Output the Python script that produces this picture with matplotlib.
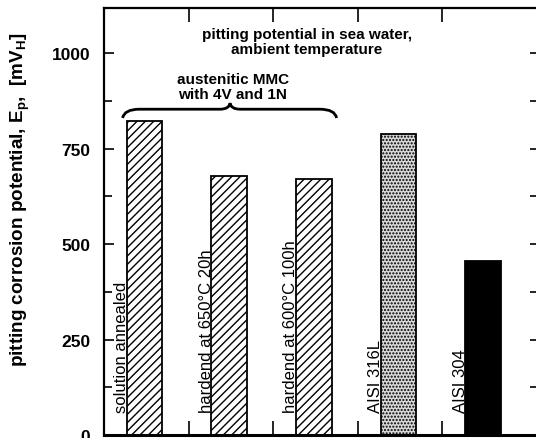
import numpy as np
import matplotlib as mpl
mpl.use('Agg')
import matplotlib.pyplot as plt
from matplotlib.path import Path
from matplotlib.patches import PathPatch

plt.rcParams['font.family'] = ['Liberation Sans', 'DejaVu Sans']
plt.rcParams['mathtext.fontset'] = 'custom'
plt.rcParams['mathtext.rm'] = 'Liberation Sans:bold'
plt.rcParams['mathtext.bf'] = 'Liberation Sans:bold'
plt.rcParams['hatch.linewidth'] = 1.0

# Data
labels = ["solution annealed", "hardend at 650°C 20h", "hardend at 600°C 100h",
          "AISI 316L", "AISI 304"]
values = [822, 678, 670, 788, 455]
hatches = ['////', '////', '////', '.....', None]
facecolors = ['white', 'white', 'white', '#d8d8d8', 'black']
yticks = [0, 250, 500, 750, 1000]

fig = plt.figure(figsize=(5.36, 4.39), dpi=100)
# right spine sits just outside the cropped picture
ax = fig.add_axes([104/536, 3/439, 440/536, 427/439])

x = np.arange(len(values))
for i, v in enumerate(values):
    ax.bar(x[i] + 0.48, v, width=0.42, color=facecolors[i], edgecolor='black',
           linewidth=1.3, hatch=hatches[i], zorder=2)
    ax.text(x[i] + 0.21, 60, labels[i], rotation=90, ha='center', va='bottom',
            fontsize=12)

ax.set_xlim(0, 440/84.6)
ax.set_ylim(0, 1118)

# y ticks, inward on both sides
ax.set_yticks(yticks)
ax.set_yticklabels([str(t) for t in yticks], fontweight='bold', fontsize=12.5)
ax.set_yticks(np.arange(125, 1118, 250), minor=True)
ax.tick_params(axis='y', which='both', direction='in', right=True, width=1.2, pad=10)
ax.tick_params(axis='y', which='major', length=7)
ax.tick_params(axis='y', which='minor', length=6)

# x ticks as group separators, top and bottom
ax.set_xticks([1, 2, 3, 4])
ax.set_xticklabels([])
ax.tick_params(axis='x', direction='in', top=True, length=10, width=1.2)

for s in ['left', 'top', 'bottom', 'right']:
    ax.spines[s].set_linewidth(1.6)
ax.spines['bottom'].set_linewidth(2.2)

ax.set_ylabel(r'pitting corrosion potential, E$_\mathrm{p}$,  [mV$_\mathrm{H}$]',
              fontsize=13.6, fontweight='bold')
ax.yaxis.set_label_coords(-0.164, 0.553)

ax.text(2.40, 1031, 'pitting potential in sea water,\nambient temperature',
        ha='center', va='center', fontsize=11, fontweight='bold', linespacing=1.1)
ax.text(1.52, 912, 'austenitic MMC\nwith 4V and 1N',
        ha='center', va='center', fontsize=11, fontweight='bold', linespacing=1.1)

# curly brace over the MMC bars
x0, x1, xt = 0.22, 2.75, 1.49
yb, ym, yt = 830, 853, 869
verts = [(x0, yb), (x0 + 0.02, ym), (x0 + 0.2, ym),
         (xt - 0.12, ym),
         (xt - 0.01, ym), (xt, yt),
         (xt + 0.01, ym), (xt + 0.12, ym),
         (x1 - 0.2, ym),
         (x1 - 0.02, ym), (x1, yb)]
codes = [Path.MOVETO, Path.CURVE3, Path.CURVE3,
         Path.LINETO,
         Path.CURVE3, Path.CURVE3,
         Path.CURVE3, Path.CURVE3,
         Path.LINETO,
         Path.CURVE3, Path.CURVE3]
ax.add_patch(PathPatch(Path(verts, codes), facecolor='none', edgecolor='black',
                       linewidth=2.0, clip_on=False))

# longer ticks on the right side so they reach into the picture
for t in ax.yaxis.get_major_ticks() + ax.yaxis.get_minor_ticks():
    t.tick2line.set_markersize(10)

fig.savefig('out.png', dpi=100)
